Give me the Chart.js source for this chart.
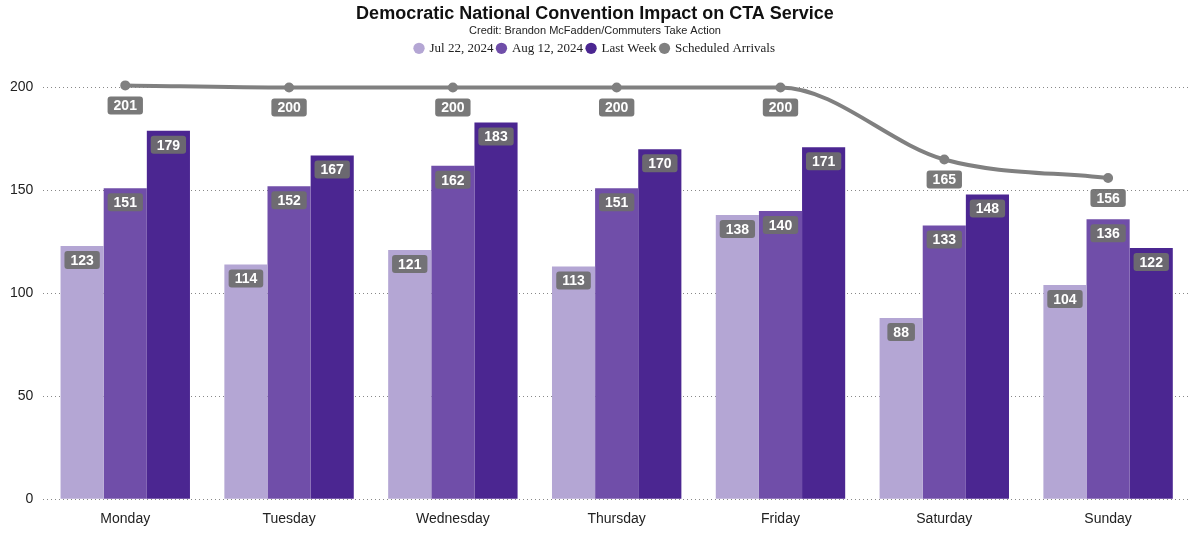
<!DOCTYPE html>
<html><head><meta charset="utf-8">
<script src="https://cdn.jsdelivr.net/npm/chart.js@4"></script>
<style>html,body{margin:0;background:#fff}#wrap{width:1200px;height:534px}</style>
</head><body><div id="wrap"><canvas id="c"></canvas></div>
<script>
const days = ['Monday', 'Tuesday', 'Wednesday', 'Thursday', 'Friday', 'Saturday', 'Sunday'];
const jul22 = [123, 114, 121, 113, 138, 88, 104];
const aug12 = [151, 152, 162, 151, 140, 133, 136];
const lastWeek = [179, 167, 183, 170, 171, 148, 122];
const scheduled = [201, 200, 200, 200, 200, 165, 156];
const yTicks = [0, 50, 100, 150, 200];

// gray value boxes, drawn just under each bar top / line point
const boxLabels = {
  id: 'boxLabels',
  afterDatasetsDraw(chart) {
    const ctx = chart.ctx;
    ctx.save();
    ctx.font = 'bold 14px Arial, "Liberation Sans"';
    ctx.textAlign = 'center';
    ctx.textBaseline = 'middle';
    chart.data.datasets.forEach((ds, i) => {
      chart.getDatasetMeta(i).data.forEach((el, j) => {
        const txt = String(ds.data[j]);
        const w = ctx.measureText(txt).width + 12, h = 18;
        const cy = ds.type === 'line' ? el.y + 20 : el.y + 14;
        ctx.fillStyle = 'rgba(110,110,110,0.92)';
        ctx.beginPath();
        ctx.roundRect(el.x - w / 2, cy - h / 2, w, h, 3);
        ctx.fill();
        ctx.fillStyle = '#fff';
        ctx.fillText(txt, el.x, cy + 1);
      });
    });
    ctx.restore();
  }
};

const legendOrder = [1, 2, 3, 0];

new Chart(document.getElementById('c'), {
  type: 'bar',
  data: {
    labels: days,
    datasets: [
      { type: 'line', label: 'Scheduled Arrivals', data: scheduled, borderColor: '#808080', backgroundColor: '#808080',
        borderWidth: 4, pointRadius: 3, cubicInterpolationMode: 'monotone', order: 0 },
      { label: 'Jul 22, 2024', data: jul22, backgroundColor: '#b4a6d4', order: 1 },
      { label: 'Aug 12, 2024', data: aug12, backgroundColor: '#704ea9', order: 1 },
      { label: 'Last Week', data: lastWeek, backgroundColor: '#4b2691', order: 1 },
    ],
  },
  options: {
    responsive: true,
    maintainAspectRatio: false,
    animation: false,
    layout: { padding: { left: 0, right: 10, top: 0, bottom: 2 } },
    datasets: { bar: { categoryPercentage: 0.79, barPercentage: 1 } },
    plugins: {
      title: { display: true, text: 'Democratic National Convention Impact on CTA Service', color: '#111',
        font: { family: 'Arial', size: 18, weight: 'bold' }, padding: { top: 3, bottom: 0 } },
      subtitle: { display: true, text: 'Credit: Brandon McFadden/Commuters Take Action', color: '#222',
        font: { family: 'Arial', size: 11 }, padding: 0 },
      legend: {
        labels: { usePointStyle: true, pointStyle: 'circle', boxWidth: 8, boxHeight: 8, padding: 4, color: '#222',
          font: { family: '"Liberation Serif", "Times New Roman", serif', size: 13 },
          generateLabels(chart) {
            return legendOrder.map(i => {
              const d = chart.data.datasets[i];
              return { text: d.label, fillStyle: d.backgroundColor, strokeStyle: d.backgroundColor,
                lineWidth: 0, pointStyle: 'circle', datasetIndex: i, fontColor: '#222' };
            });
          } },
      },
      tooltip: { enabled: false },
    },
    scales: {
      x: {
        grid: { display: false },
        border: { display: false },
        ticks: { color: '#222', font: { family: 'Arial', size: 14 }, padding: 4 },
      },
      y: {
        min: 0, max: 211,
        afterBuildTicks(axis) { axis.ticks = yTicks.map(v => ({ value: v })); },
        grid: { color: '#888', lineWidth: 1, drawTicks: false },
        border: { display: true, width: 0, dash: [1, 3] },
        ticks: { color: '#222', font: { family: 'Arial', size: 14 }, padding: 10 },
      },
    },
  },
  plugins: [boxLabels],
});
</script></body></html>
